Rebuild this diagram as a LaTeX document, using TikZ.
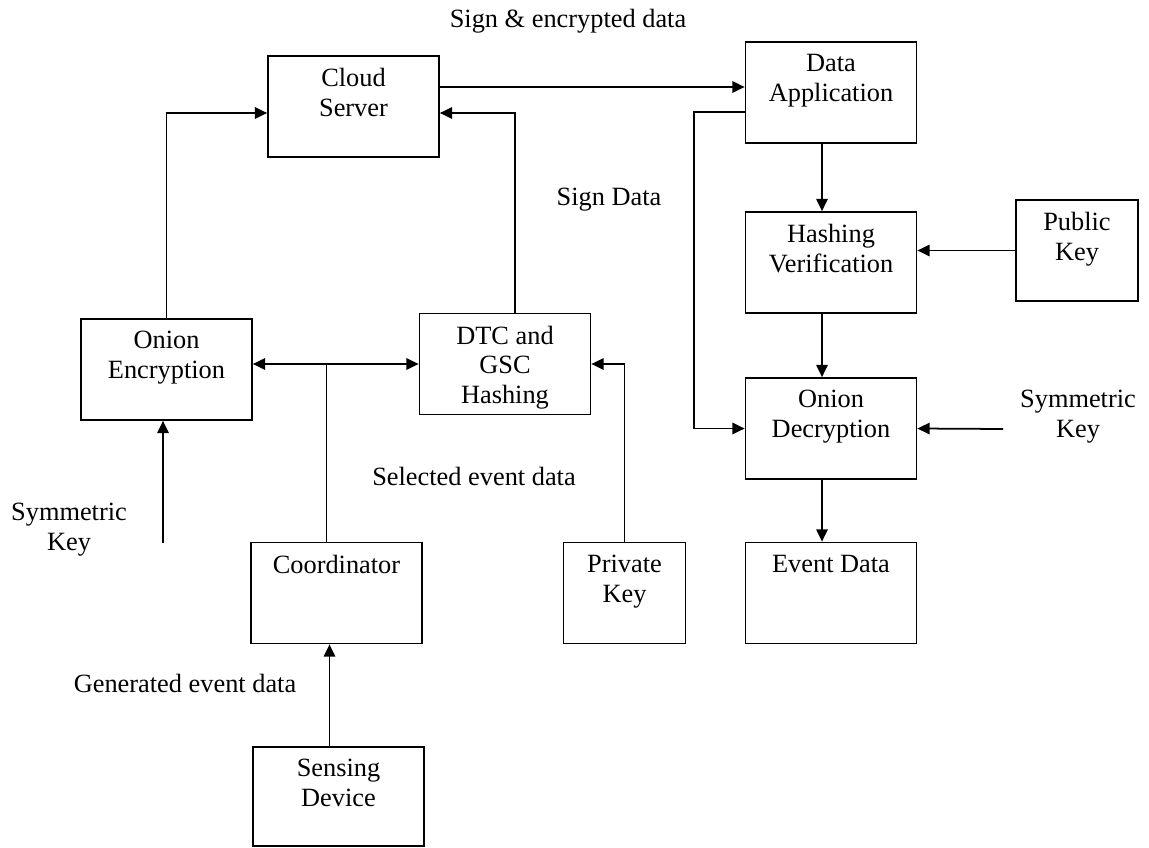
\documentclass[tikz,border=0pt]{standalone}
\usepackage{fontspec}
\setmainfont{Liberation Serif}
\usetikzlibrary{arrows.meta,calc}
\begin{document}
\begin{tikzpicture}[x=0.02cm,y=-0.02cm,
  font=\fontsize{15}{17}\selectfont,
  line width=1pt,
  >={Triangle[length=7pt,width=6.5pt]},
  blk/.style={draw,minimum width=3.42cm,minimum height=2.02cm,inner sep=0pt},
  keyblk/.style={blk,minimum width=2.44cm},
  txt/.style={align=center,inner sep=0pt,anchor=north,yshift=-7pt},
  lbl/.style={align=center,inner sep=0pt}]
  \useasboundingbox (0,0) rectangle (1149,848);
  % left column
  \node[blk,label={[txt,name=enct]north:Onion\\Encryption}] (enc) at (166.5,369.5) {};
  \node[blk,label={[txt,name=cloudt]north:Cloud\\Server}] (cloud) at (353.5,106.5) {};
  \node[blk,label={[txt,name=dtct]north:DTC and\\GSC\\Hashing}] (dtc) at (505,364) {};
  \node[blk,label={[txt,name=coordt]north:Coordinator}] (coord) at (336.5,593) {};
  \node[blk,minimum height=1.98cm,label={[txt,name=senset]north:Sensing\\Device}] (sense) at (338.5,796.5) {};
  \node[keyblk,label={[txt,name=privt]north:Private\\Key}] (priv) at (624.5,593) {};
  % right column
  \node[blk,label={[txt,name=appt]north:Data\\Application}] (app) at (831,92.5) {};
  \node[blk,label={[txt,name=hasht]north:Hashing\\Verification}] (hash) at (831,262.5) {};
  \node[keyblk,label={[txt,name=pubt]north:Public\\Key}] (pub) at (1077,250.5) {};
  \node[blk,label={[txt,name=dect]north:Onion\\Decryption}] (dec) at (831,428.5) {};
  \node[blk,label={[txt,name=eventt]north:Event Data}] (event) at (831,593) {};
  % free labels
  \node[lbl] (signenc) at (568,21) {Sign \& encrypted data};
  \node[lbl] (signdata) at (609,200) {Sign Data};
  \node[lbl] (selected) at (474,476) {Selected event data};
  \node[lbl] (generated) at (185,683) {Generated event data};
  \node[lbl] (symleft) at (69,530) {Symmetric\\Key};
  \node[lbl] (symright) at (1078,417) {Symmetric\\Key};
  % loose ends
  \coordinate (skl) at (163,543);
  \coordinate (skr) at (1003,429);
  \coordinate (cj) at ($(coord.north)+(-10,0)$);
  \coordinate (ce) at ($(cloud.east)+(0,-19.5)$);
  % arrows, left part
  \draw[->] (enc.north) |- ($(cloud.west)+(0,6.5)$);
  \draw[->] ($(dtc.north)+(10,0)$) |- ($(cloud.east)+(0,6.5)$);
  \draw[<->] (enc.east |- dtc.west) -- (dtc.west);
  \draw (cj) -- (cj |- dtc.west);
  \draw[->] (priv.north) |- (dtc.east);
  \draw[->] (skl) -- (skl |- enc.south);
  \draw[->] ($(sense.north)+(-9,0)$) -- ($(coord.south)+(-7,0)$);
  \draw[->] (ce) -- (ce -| app.west);
  % arrows, right part
  \draw[->] ($(app.south)+(-9,0)$) -- ($(hash.north)+(-9,0)$);
  \draw[->] ($(hash.south)+(-9,0)$) -- ($(dec.north)+(-9,0)$);
  \draw[->] ($(dec.south)+(-9,0)$) -- ($(event.north)+(-9,0)$);
  \draw[->] (pub.west) -- (pub.west -| hash.east);
  \draw[->] (skr) -- (dec.east);
  \draw[->] ($(app.west)+(0,19.5)$) -- ++(-51,0) |- (dec.west);
\end{tikzpicture}
\end{document}
